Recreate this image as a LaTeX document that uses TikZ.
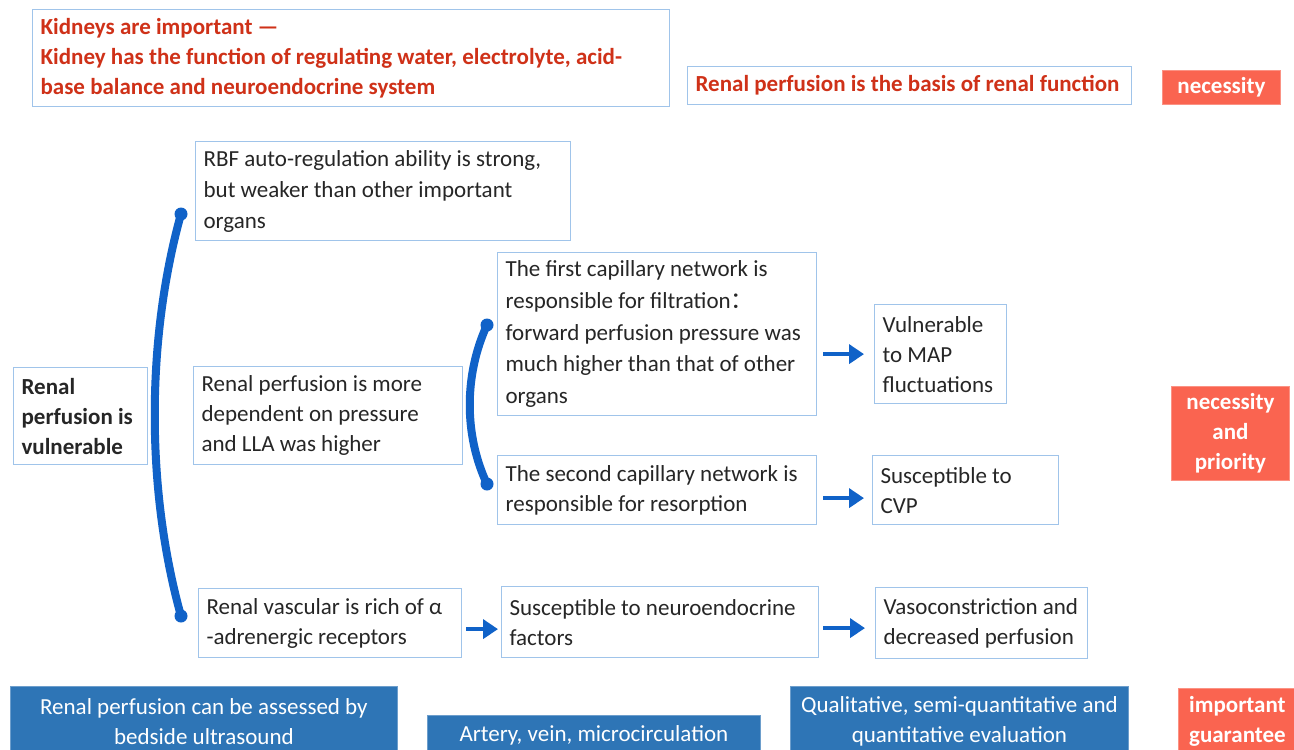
\documentclass[tikz,border=0pt]{standalone}
\usepackage{fontspec}
\setmainfont{Carlito}
\newfontfamily\cjk{Noto Sans CJK SC}
\usetikzlibrary{arrows.meta}

\definecolor{bordc}{RGB}{160,196,234}
\definecolor{redtxt}{RGB}{207,49,24}
\definecolor{coral}{RGB}{250,100,80}
\definecolor{tagblue}{RGB}{46,117,182}
\definecolor{linkblue}{RGB}{16,98,200}

\newcommand\txtfont{\fontsize{23}{30}\selectfont}

\tikzset{
  % keep the font's own interword space and never hyphenate
  plainspace/.style={execute at begin node={\spaceskip=0pt\xspaceskip=0pt\hyphenpenalty=10000\exhyphenpenalty=10000}},
  box/.style={draw=bordc, line width=1.2pt, anchor=north west, align=left, plainspace,
    inner xsep=8pt, inner ysep=0pt, font=\txtfont, text=black!85},
  redbox/.style={box, font=\txtfont\bfseries, text=redtxt},
  tag/.style={fill=coral, draw=coral!70!white, line width=0.8pt, anchor=north west,
    align=center, inner sep=0pt, font=\txtfont\bfseries, text=white},
  bluetag/.style={fill=tagblue, draw=tagblue!70!white, line width=0.8pt, anchor=north west,
    align=center, inner sep=0pt, font=\txtfont, text=white},
  brace/.style={draw=linkblue, line width=8pt, line cap=round},
  braceend/.style={fill=linkblue, draw=none},
  flow/.style={draw=linkblue, line width=4pt,
    -{Triangle[length=15pt,width=19pt]}}
}

\begin{document}
\begin{tikzpicture}[x=1pt,y=-1pt]
\clip (0,0) rectangle (1294,750);
\fill[white] (0,0) rectangle (1294,750);

% heading boxes
\node[redbox, text width=621pt, minimum height=97pt] (kid) at (32,9)
  {Kidneys are important —\\Kidney has the function of regulating water, electrolyte, acid-\\base balance and neuroendocrine system};
\node[redbox, text width=428pt, minimum height=38pt] (basis) at (687,66)
  {Renal perfusion is the basis of renal function};
\node[tag, minimum width=118pt, minimum height=34pt] (nec1) at (1162,70) {necessity};

% main column
\node[box, text width=359pt, minimum height=99pt, font=\fontsize{23}{31}\selectfont] (rbf) at (195,141)
  {RBF auto-regulation ability is strong,\\but weaker than other important\\organs};
\node[box, text width=118pt, minimum height=97pt, font=\txtfont\bfseries] (vul) at (13,367)
  {Renal\\perfusion is\\vulnerable};
\node[box, text width=253pt, minimum height=98pt] (dep) at (193,366)
  {Renal perfusion is more\\dependent on pressure\\and LLA was higher};
\node[box, text width=303pt, minimum height=163pt, font=\fontsize{23}{31.8}\selectfont] (first) at (497,252)
  {The first capillary network is\\responsible for filtration{\cjk ：}\\forward perfusion pressure was\\much higher than that of other\\organs};
\node[box, text width=303pt, minimum height=69pt] (second) at (497,455)
  {The second capillary network is\\responsible for resorption};
\node[box, text width=116pt, minimum height=99pt] (map) at (874,304)
  {Vulnerable\\to MAP\\fluctuations};
\node[box, text width=170pt, minimum height=69pt] (cvp) at (872,455)
  {Susceptible to\\CVP};
\node[box, text width=247pt, minimum height=69pt] (alpha) at (198,588)
  {Renal vascular is rich of α\\-adrenergic receptors};
\node[box, text width=301pt, minimum height=71pt] (neuro) at (501,586)
  {Susceptible to neuroendocrine\\factors};
\node[box, text width=196pt, minimum height=71pt] (vaso) at (875,587)
  {Vasoconstriction and\\decreased perfusion};
\node[tag, minimum width=118pt, minimum height=94pt] (nec2) at (1171,386)
  {necessity\\and\\priority};

% assessment row
\node[bluetag, minimum width=387pt, minimum height=70pt] (ult) at (10,686)
  {Renal perfusion can be assessed by\\bedside ultrasound};
\node[bluetag, minimum width=333pt, minimum height=40pt] (art) at (427,715)
  {Artery, vein, microcirculation};
\node[bluetag, minimum width=338pt, minimum height=70pt] (qual) at (790,686)
  {Qualitative, semi-quantitative and\\quantitative evaluation};
\node[tag, minimum width=118pt, minimum height=66pt] (imp) at (1178,688)
  {important\\guarantee};

% curved braces grouping the branches
\coordinate (bt) at (181,214);
\coordinate (bb) at (181,616);
\draw[brace] (bt) .. controls (146,340) and (146,490) .. (bb);
\fill[braceend] (bt) circle (6.5pt) (bb) circle (6.5pt);
\coordinate (st) at (487,325);
\coordinate (sb) at (487,484);
\draw[brace] (st) .. controls (464,375) and (464,435) .. (sb);
\fill[braceend] (st) circle (6.5pt) (sb) circle (6.5pt);

% flow arrows
\draw[flow, shorten <=6pt, shorten >=10pt] (first.east |- map.west) -- (map.west);
\draw[flow, shorten <=6pt, shorten >=8pt] ([yshift=-8pt]second.east) -- ([yshift=-8pt]cvp.west);
\draw[flow, shorten <=4pt, shorten >=3pt] ([yshift=-6pt]alpha.east) -- ([yshift=-6pt]alpha.east -| neuro.west);
\draw[flow, shorten <=4pt, shorten >=10pt] ([yshift=-6pt]neuro.east) -- ([yshift=-6pt]neuro.east -| vaso.west);
\end{tikzpicture}
\end{document}
